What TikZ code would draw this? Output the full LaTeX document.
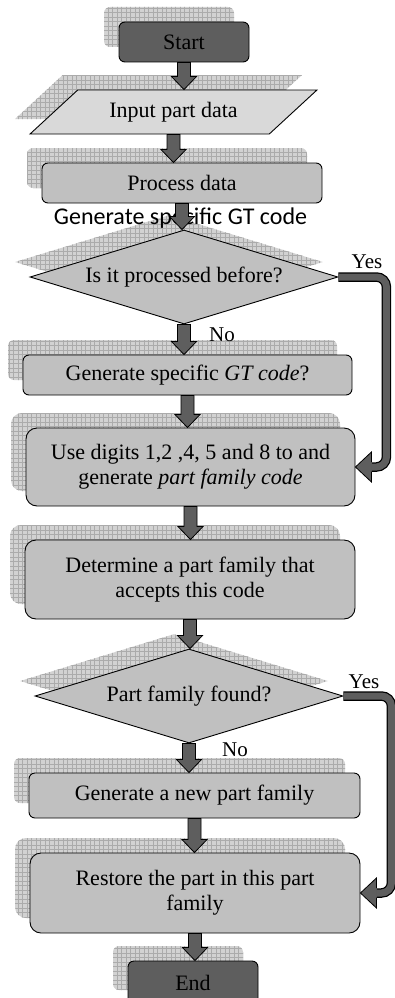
\documentclass[tikz,border=0pt]{standalone}
\usepackage{fontspec}
\setmainfont{Liberation Serif}
\newfontfamily\calibri{Carlito}
\usetikzlibrary{shapes.geometric,shadows,patterns,calc}

\pgfdeclarepatternformonly{finegrid}{\pgfqpoint{-0.5pt}{-0.5pt}}{\pgfqpoint{5pt}{5pt}}{\pgfqpoint{4.5pt}{4.5pt}}{%
 \pgfsetlinewidth{0.45pt}%
 \pgfpathmoveto{\pgfqpoint{0pt}{0pt}}\pgfpathlineto{\pgfqpoint{4.5pt}{0pt}}%
 \pgfpathmoveto{\pgfqpoint{0pt}{0pt}}\pgfpathlineto{\pgfqpoint{0pt}{4.5pt}}%
 \pgfusepath{stroke}}

\definecolor{darkbox}{HTML}{5E5E5E}
\definecolor{midbox}{HTML}{C0C0C0}
\definecolor{lightbox}{HTML}{D9D9D9}
\definecolor{shadowfill}{HTML}{D2D2D2}
\definecolor{gridline}{HTML}{ABABAB}

\tikzset{
  gridshadow/.style={
    general shadow={fill=shadowfill, shadow xshift=-15pt, shadow yshift=15pt},
    general shadow={pattern=finegrid, pattern color=gridline, shadow xshift=-15pt, shadow yshift=15pt}},
  basebox/.style={draw=black, line width=0.9pt, inner sep=0pt, align=center,
    font=\fontsize{22}{25}\selectfont, gridshadow},
  procbox/.style={basebox, rectangle, rounded corners=6pt, fill=midbox},
  bigbox/.style={basebox, rectangle, rounded corners=11pt, fill=midbox},
  termbox/.style={basebox, rectangle, rounded corners=6pt, fill=darkbox},
  iobox/.style={basebox, trapezium, trapezium left angle=32, trapezium right angle=148,
    trapezium stretches=true, fill=lightbox},
  decbox/.style={basebox, diamond, aspect=3.28, fill=midbox},
  blockarrow/.style={draw=black, fill=darkbox, line width=0.8pt, line join=miter},
  lbl/.style={font=\fontsize{21}{24}\selectfont, inner sep=0pt},
}

\newcommand\vflow[2]{\path[blockarrow] let \p1=(#1), \p2=(#2) in
  (\x1-6.5pt,\y1) -- (\x1-6.5pt,\y2+13pt) -- (\x1-12.5pt,\y2+13pt) -- (\x1,\y2)
  -- (\x1+12.5pt,\y2+13pt) -- (\x1+6.5pt,\y2+13pt) -- (\x1+6.5pt,\y1) -- cycle;}

\newcommand\yesflow[3]{%
  \draw[rounded corners=10pt, line width=9.5pt, black] (#1) -- ($(#1)+(#3,0)$) |- ($(#2)+(16,0)$);
  \draw[rounded corners=10pt, line width=7pt, darkbox] (#1) -- ($(#1)+(#3,0)$) |- ($(#2)+(16,0)$);
  \fill[darkbox] let \p1=(#2) in (\x1,\y1) -- (\x1+16pt,\y1+15pt) -- (\x1+16pt,\y1-15pt) -- cycle;
  \draw[line width=0.8pt, line join=miter] let \p1=(#2) in (\x1+16pt,\y1+4.6pt) -- (\x1+16pt,\y1+15pt)
     -- (\x1,\y1) -- (\x1+16pt,\y1-15pt) -- (\x1+16pt,\y1-4.6pt);}

\begin{document}
\begin{tikzpicture}[x=1pt,y=-1pt]
\useasboundingbox (0,0) rectangle (395,998);
\clip (0,0) rectangle (395,998);

\node[termbox, minimum width=130, minimum height=40] (start) at (184,42) {Start};
\node[iobox, minimum width=287, minimum height=44] (input) at (173.5,112) {Input part data};
\node[procbox, minimum width=280, minimum height=40] (process) at (182,183) {Process data};
\node[decbox, minimum width=308, minimum height=94] (d1) at (184,277) {Is it processed before?};
\node[procbox, minimum width=329, minimum height=40] (gtcode) at (187.5,375) {Generate specific \textit{GT code}?};
\node[bigbox, minimum width=329, minimum height=78] (digits) at (190.5,467) {Use digits 1,2 ,4, 5 and 8 to and\\generate \textit{part family code}};
\node[bigbox, minimum width=330, minimum height=79] (determine) at (190,579.5) {Determine a part family that\\accepts this code};
\node[decbox, minimum width=308, minimum height=94] (d2) at (189,696) {Part family found?};
\node[procbox, minimum width=331, minimum height=45] (newfam) at (194.5,795.5) {Generate a new part family};
\node[bigbox, minimum width=330, minimum height=80] (restore) at (195,893) {Restore the part in this part\\family};
\node[termbox, minimum width=130, minimum height=44] (end) at (193,983) {End};

\node[font=\calibri\fontsize{24}{28}\selectfont, inner sep=0pt] (gtlabel) at (180.5,218) {Generate specific GT code};

\vflow{start.south}{input.north}
\vflow{input.south}{process.north}
\vflow{process.south}{d1.north}
\vflow{d1.south}{gtcode.north}
\vflow{gtcode.south}{digits.north}
\vflow{digits.south}{determine.north}
\vflow{determine.south}{d2.north}
\vflow{d2.south}{newfam.north}
\vflow{newfam.south}{restore.north}
\vflow{restore.south}{end.north}

\yesflow{d1.east}{digits.east}{48}
\yesflow{d2.east}{restore.east}{48}

\node[lbl] (yes1) at (367,262) {Yes};
\node[lbl] (no1) at (222,335) {No};
\node[lbl] (yes2) at (364,682) {Yes};
\node[lbl] (no2) at (235,750) {No};
\end{tikzpicture}
\end{document}
